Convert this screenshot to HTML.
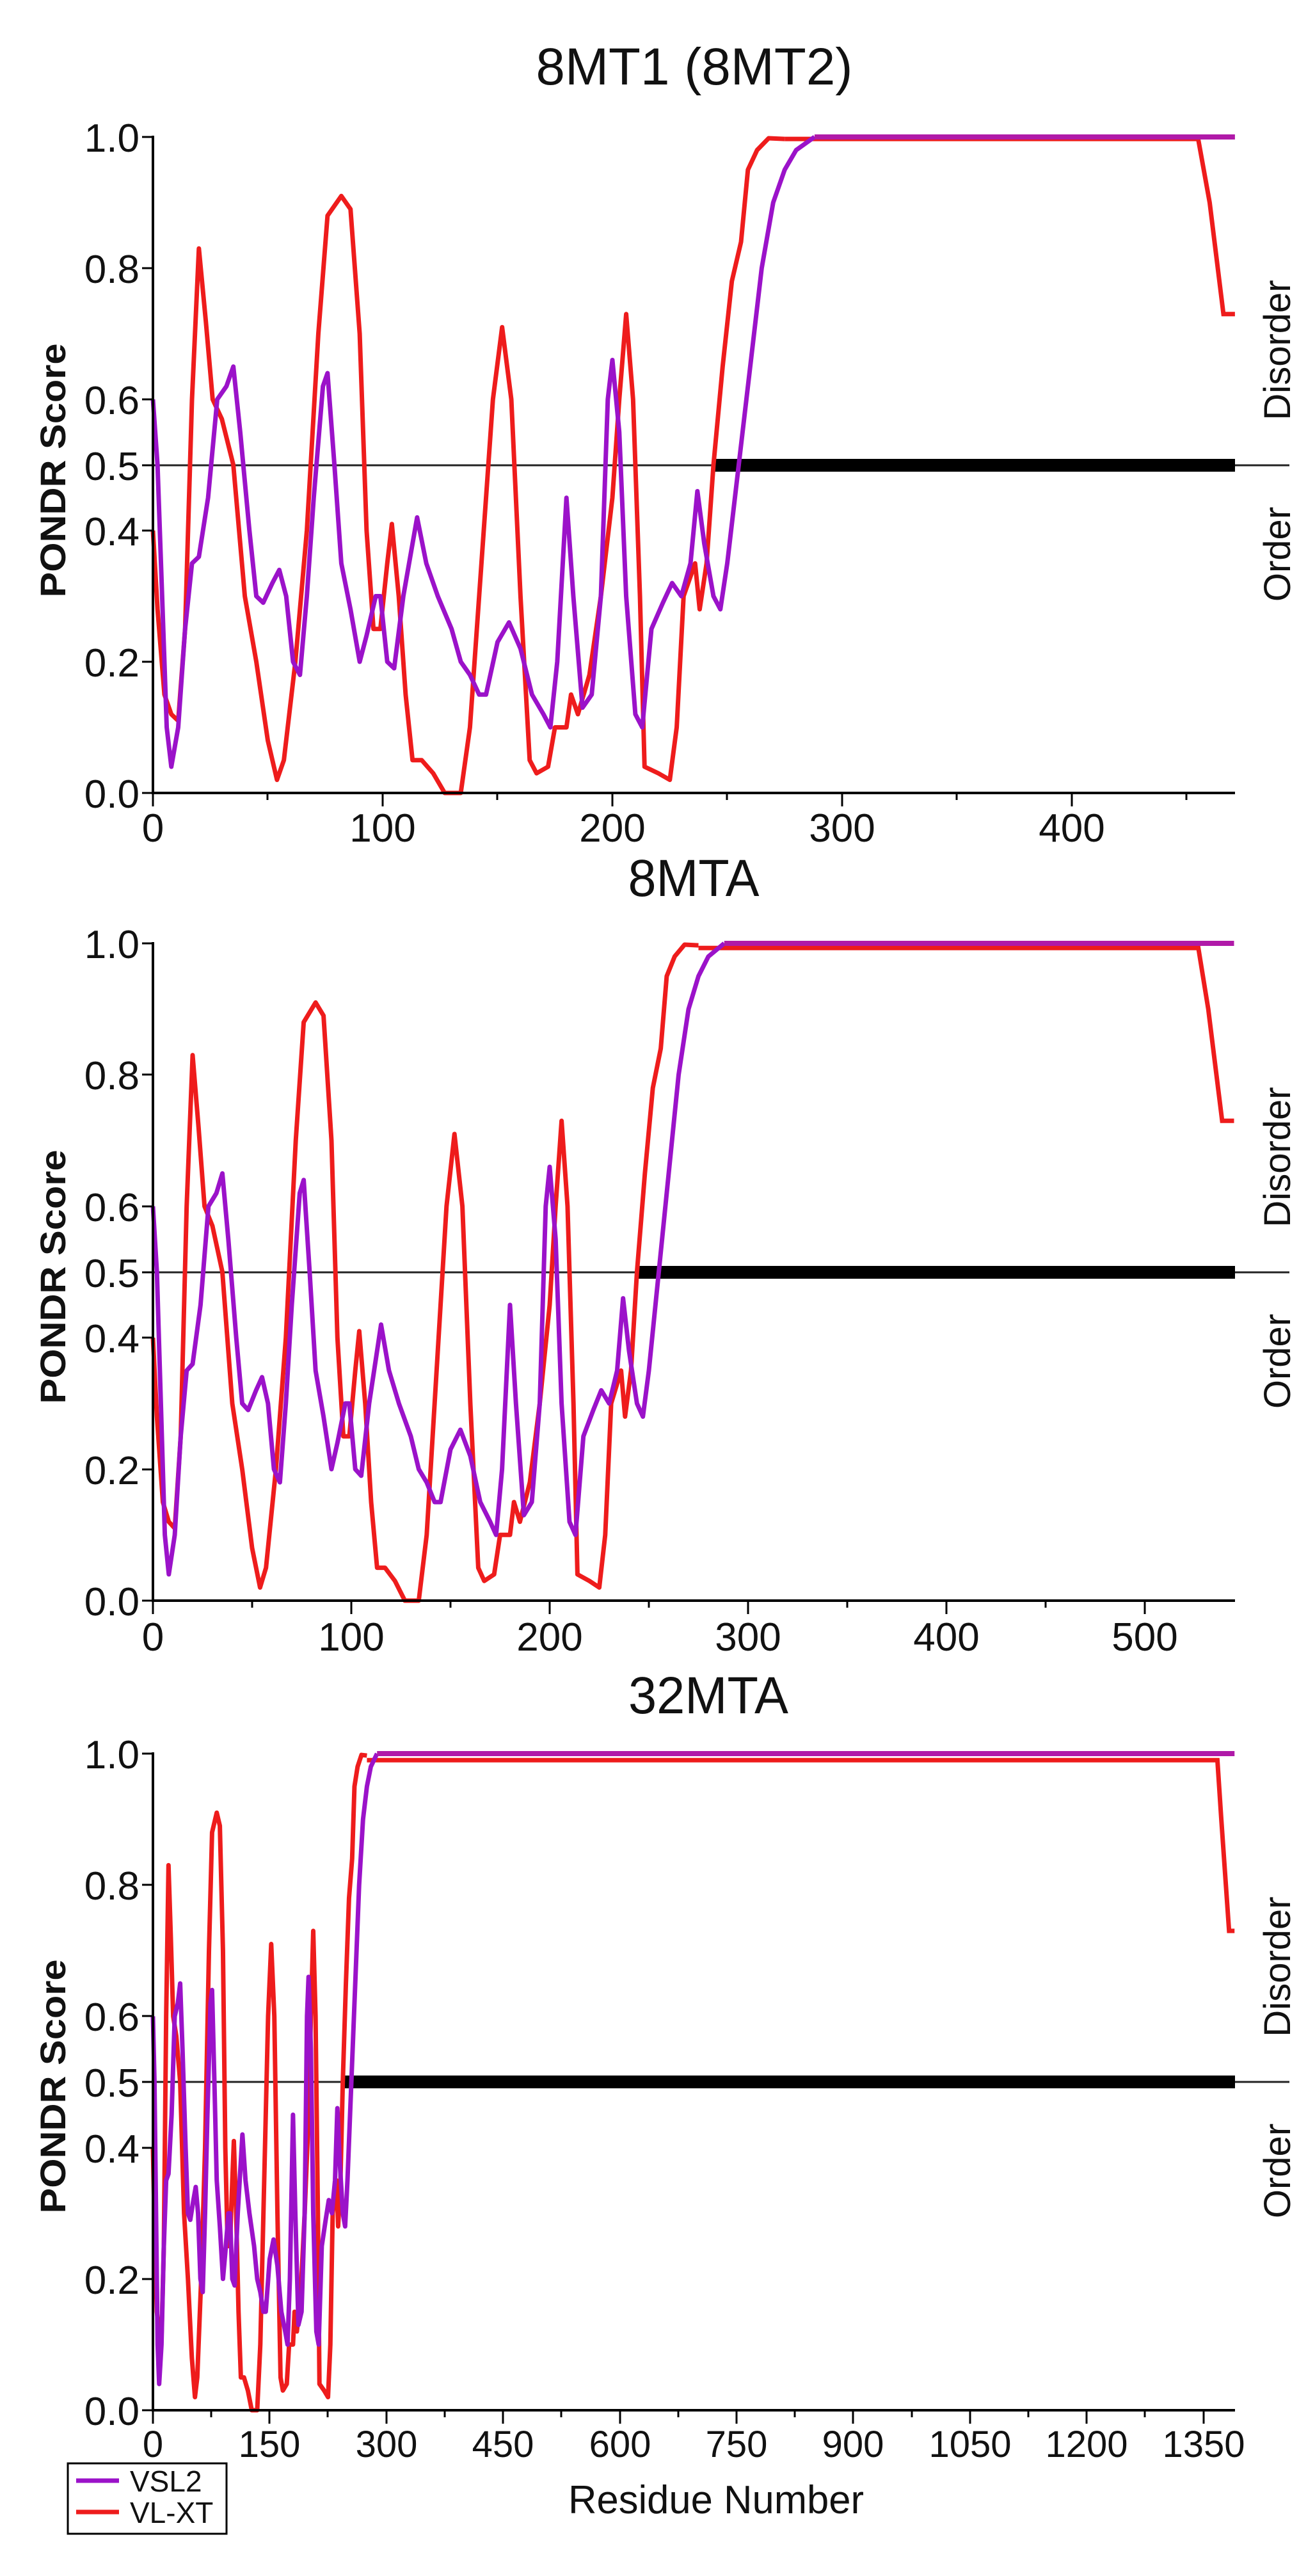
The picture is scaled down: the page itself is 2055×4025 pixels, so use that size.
<!DOCTYPE html>
<html><head><meta charset="utf-8"><style>
html,body{margin:0;padding:0;background:#fff}
svg{display:block}
text{font-family:"Liberation Sans",Arial,sans-serif;fill:#111}
</style></head><body>
<svg width="2055" height="4025" viewBox="0 0 2055 4025" xmlns="http://www.w3.org/2000/svg">
<defs>
<polyline id="redHead" fill="none" stroke="#ee1c1c" stroke-width="7" vector-effect="non-scaling-stroke" stroke-linejoin="round" points="0,0.40 2,0.28 5,0.15 8,0.12 11,0.11 14,0.25 17,0.6 20,0.83 23,0.72 26,0.6 30,0.57 35,0.5 40,0.3 45,0.2 50,0.08 54,0.02 57,0.05 62,0.2 67,0.4 72,0.7 76,0.88 82,0.91 86,0.89 90,0.7 93,0.4 96,0.25 99,0.25 102,0.35 104,0.41 107,0.3 110,0.15 113,0.05 117,0.05 122,0.03 127,0.0 134,0.0 138,0.1 143,0.35 148,0.6 152,0.71 156,0.6 160,0.3 164,0.05 167,0.03 172,0.04 175,0.1 180,0.1 182,0.15 185,0.12 190,0.18 195,0.3 200,0.45 203,0.6 206,0.73 209,0.6 212,0.3 214,0.04 220,0.03 225,0.02 228,0.1 231,0.3 236,0.35 238,0.28 241,0.35 244,0.5 248,0.65 252,0.78 256,0.84 259,0.95 263,0.98 268,0.998 275,0.997"/>
<polyline id="purHead" fill="none" stroke="#9b12c9" stroke-width="7" vector-effect="non-scaling-stroke" stroke-linejoin="round" points="0,0.60 2,0.5 4,0.3 6,0.1 8,0.04 11,0.1 14,0.25 17,0.35 20,0.36 24,0.45 28,0.6 32,0.62 35,0.65 38,0.55 42,0.4 45,0.3 48,0.29 52,0.32 55,0.34 58,0.3 61,0.2 64,0.18 67,0.3 70,0.45 74,0.62 76,0.64 79,0.5 82,0.35 86,0.28 90,0.2 93,0.24 97,0.3 99,0.3 102,0.2 105,0.19 109,0.3 115,0.42 119,0.35 124,0.3 130,0.25 134,0.2 138,0.18 142,0.15 145,0.15 150,0.23 155,0.26 160,0.22 165,0.15 170,0.12 173,0.1 176,0.2 180,0.45 183,0.3 187,0.13 191,0.15 195,0.3 198,0.6 200,0.66 203,0.55 206,0.3 210,0.12 213,0.1 217,0.25 222,0.29 226,0.32 230,0.3 234,0.35 237,0.46 240,0.38 244,0.3 247,0.28 250,0.35 255,0.5 260,0.65 265,0.8 270,0.9 275,0.95 280,0.98 288,1.0"/>
</defs>

<!-- ===== Panel 1 ===== -->
<text x="1085" y="132" font-size="82" text-anchor="middle" textLength="495" lengthAdjust="spacingAndGlyphs">8MT1 (8MT2)</text>
<g>
<line x1="239" y1="727" x2="2015" y2="727" stroke="#222" stroke-width="3"/>
<rect x="1115" y="717" width="815" height="20" fill="#000"/>
<g transform="translate(239,1239) scale(3.59,-1025)">
<use href="#redHead"/>
<polyline fill="none" stroke="#ee1c1c" stroke-width="7" vector-effect="non-scaling-stroke" points="275,0.997 455,0.997 460,0.9 466,0.73 471,0.73"/>
<use href="#purHead"/>
<polyline fill="none" stroke="#b01aa8" stroke-width="8" vector-effect="non-scaling-stroke" points="288,1.0 471,1.0"/>
</g>
<line x1="239" y1="212" x2="239" y2="1241" stroke="#000" stroke-width="4"/>
<line x1="237" y1="1239" x2="1930" y2="1239" stroke="#000" stroke-width="4"/>
<g stroke="#000" stroke-width="3">
<line x1="222" y1="214" x2="239" y2="214"/><line x1="222" y1="419" x2="239" y2="419"/><line x1="222" y1="624" x2="239" y2="624"/><line x1="222" y1="727" x2="239" y2="727"/><line x1="222" y1="829" x2="239" y2="829"/><line x1="222" y1="1034" x2="239" y2="1034"/><line x1="222" y1="1239" x2="239" y2="1239"/>
<line x1="239" y1="1239" x2="239" y2="1260"/><line x1="598" y1="1239" x2="598" y2="1260"/><line x1="957" y1="1239" x2="957" y2="1260"/><line x1="1316" y1="1239" x2="1316" y2="1260"/><line x1="1675" y1="1239" x2="1675" y2="1260"/>
<line x1="418" y1="1239" x2="418" y2="1250"/><line x1="777" y1="1239" x2="777" y2="1250"/><line x1="1136" y1="1239" x2="1136" y2="1250"/><line x1="1495" y1="1239" x2="1495" y2="1250"/><line x1="1854" y1="1239" x2="1854" y2="1250"/>
</g>
<g font-size="62" text-anchor="end">
<text x="218" y="237">1.0</text><text x="218" y="442">0.8</text><text x="218" y="647">0.6</text><text x="218" y="750">0.5</text><text x="218" y="852">0.4</text><text x="218" y="1057">0.2</text><text x="218" y="1262">0.0</text>
</g>
<g font-size="62" text-anchor="middle">
<text x="239" y="1315">0</text><text x="598" y="1315">100</text><text x="957" y="1315">200</text><text x="1316" y="1315">300</text><text x="1675" y="1315">400</text>
</g>
<text transform="translate(102,735) rotate(-90)" font-size="56" font-weight="bold" text-anchor="middle" textLength="397" lengthAdjust="spacingAndGlyphs">PONDR Score</text>
<text transform="translate(2016,547) rotate(-90)" font-size="58" text-anchor="middle">Disorder</text>
<text transform="translate(2016,866) rotate(-90)" font-size="58" text-anchor="middle">Order</text>
</g>

<!-- ===== Panel 2 ===== -->
<text x="1084" y="1400" font-size="82" text-anchor="middle" textLength="205" lengthAdjust="spacingAndGlyphs">8MTA</text>
<g>
<line x1="239" y1="1988" x2="2015" y2="1988" stroke="#222" stroke-width="3"/>
<rect x="995" y="1978" width="935" height="20" fill="#000"/>
<g transform="translate(239,2501) scale(3.10,-1027)">
<use href="#redHead"/>
<polyline fill="none" stroke="#ee1c1c" stroke-width="7" vector-effect="non-scaling-stroke" points="275,0.993 527,0.993 532,0.9 539,0.73 545,0.73"/>
<use href="#purHead"/>
<polyline fill="none" stroke="#b01aa8" stroke-width="8" vector-effect="non-scaling-stroke" points="288,1.0 545,1.0"/>
</g>
<line x1="239" y1="1472" x2="239" y2="2503" stroke="#000" stroke-width="4"/>
<line x1="237" y1="2501" x2="1930" y2="2501" stroke="#000" stroke-width="4"/>
<g stroke="#000" stroke-width="3">
<line x1="222" y1="1474" x2="239" y2="1474"/><line x1="222" y1="1679" x2="239" y2="1679"/><line x1="222" y1="1885" x2="239" y2="1885"/><line x1="222" y1="1988" x2="239" y2="1988"/><line x1="222" y1="2090" x2="239" y2="2090"/><line x1="222" y1="2296" x2="239" y2="2296"/><line x1="222" y1="2501" x2="239" y2="2501"/>
<line x1="239" y1="2501" x2="239" y2="2522"/><line x1="549" y1="2501" x2="549" y2="2522"/><line x1="859" y1="2501" x2="859" y2="2522"/><line x1="1169" y1="2501" x2="1169" y2="2522"/><line x1="1479" y1="2501" x2="1479" y2="2522"/><line x1="1789" y1="2501" x2="1789" y2="2522"/>
<line x1="394" y1="2501" x2="394" y2="2512"/><line x1="704" y1="2501" x2="704" y2="2512"/><line x1="1014" y1="2501" x2="1014" y2="2512"/><line x1="1324" y1="2501" x2="1324" y2="2512"/><line x1="1634" y1="2501" x2="1634" y2="2512"/>
</g>
<g font-size="62" text-anchor="end">
<text x="218" y="1497">1.0</text><text x="218" y="1702">0.8</text><text x="218" y="1908">0.6</text><text x="218" y="2011">0.5</text><text x="218" y="2113">0.4</text><text x="218" y="2319">0.2</text><text x="218" y="2524">0.0</text>
</g>
<g font-size="62" text-anchor="middle">
<text x="239" y="2579">0</text><text x="549" y="2579">100</text><text x="859" y="2579">200</text><text x="1169" y="2579">300</text><text x="1479" y="2579">400</text><text x="1789" y="2579">500</text>
</g>
<text transform="translate(102,1995) rotate(-90)" font-size="56" font-weight="bold" text-anchor="middle" textLength="397" lengthAdjust="spacingAndGlyphs">PONDR Score</text>
<text transform="translate(2016,1808) rotate(-90)" font-size="58" text-anchor="middle">Disorder</text>
<text transform="translate(2016,2127) rotate(-90)" font-size="58" text-anchor="middle">Order</text>
</g>

<!-- ===== Panel 3 ===== -->
<text x="1107" y="2677" font-size="82" text-anchor="middle" textLength="250" lengthAdjust="spacingAndGlyphs">32MTA</text>
<g>
<line x1="239" y1="3253" x2="2015" y2="3253" stroke="#222" stroke-width="3"/>
<rect x="537" y="3243" width="1393" height="20" fill="#000"/>
<g transform="translate(239,3766) scale(1.216,-1026)">
<use href="#redHead"/>
<polyline fill="none" stroke="#ee1c1c" stroke-width="7" vector-effect="non-scaling-stroke" points="275,0.99 1368,0.99 1373,0.9 1383,0.73 1390,0.73"/>
<use href="#purHead"/>
<polyline fill="none" stroke="#b01aa8" stroke-width="8" vector-effect="non-scaling-stroke" points="288,1.0 1390,1.0"/>
</g>
<line x1="239" y1="2738" x2="239" y2="3768" stroke="#000" stroke-width="4"/>
<line x1="237" y1="3766" x2="1930" y2="3766" stroke="#000" stroke-width="4"/>
<g stroke="#000" stroke-width="3">
<line x1="222" y1="2740" x2="239" y2="2740"/><line x1="222" y1="2945" x2="239" y2="2945"/><line x1="222" y1="3150" x2="239" y2="3150"/><line x1="222" y1="3253" x2="239" y2="3253"/><line x1="222" y1="3356" x2="239" y2="3356"/><line x1="222" y1="3561" x2="239" y2="3561"/><line x1="222" y1="3766" x2="239" y2="3766"/>
<line x1="239" y1="3766" x2="239" y2="3787"/><line x1="421" y1="3766" x2="421" y2="3787"/><line x1="604" y1="3766" x2="604" y2="3787"/><line x1="786" y1="3766" x2="786" y2="3787"/><line x1="969" y1="3766" x2="969" y2="3787"/><line x1="1151" y1="3766" x2="1151" y2="3787"/><line x1="1333" y1="3766" x2="1333" y2="3787"/><line x1="1516" y1="3766" x2="1516" y2="3787"/><line x1="1698" y1="3766" x2="1698" y2="3787"/><line x1="1881" y1="3766" x2="1881" y2="3787"/>
<line x1="330" y1="3766" x2="330" y2="3777"/><line x1="512" y1="3766" x2="512" y2="3777"/><line x1="695" y1="3766" x2="695" y2="3777"/><line x1="877" y1="3766" x2="877" y2="3777"/><line x1="1060" y1="3766" x2="1060" y2="3777"/><line x1="1242" y1="3766" x2="1242" y2="3777"/><line x1="1425" y1="3766" x2="1425" y2="3777"/><line x1="1607" y1="3766" x2="1607" y2="3777"/><line x1="1789" y1="3766" x2="1789" y2="3777"/>
</g>
<g font-size="62" text-anchor="end">
<text x="218" y="2763">1.0</text><text x="218" y="2968">0.8</text><text x="218" y="3173">0.6</text><text x="218" y="3276">0.5</text><text x="218" y="3379">0.4</text><text x="218" y="3584">0.2</text><text x="218" y="3789">0.0</text>
</g>
<g font-size="58" text-anchor="middle">
<text x="239" y="3839">0</text><text x="421" y="3839">150</text><text x="604" y="3839">300</text><text x="786" y="3839">450</text><text x="969" y="3839">600</text><text x="1151" y="3839">750</text><text x="1333" y="3839">900</text><text x="1516" y="3839">1050</text><text x="1698" y="3839">1200</text><text x="1881" y="3839">1350</text>
</g>
<text transform="translate(102,3260) rotate(-90)" font-size="56" font-weight="bold" text-anchor="middle" textLength="397" lengthAdjust="spacingAndGlyphs">PONDR Score</text>
<text transform="translate(2016,3073) rotate(-90)" font-size="58" text-anchor="middle">Disorder</text>
<text transform="translate(2016,3392) rotate(-90)" font-size="58" text-anchor="middle">Order</text>
<text x="1119" y="3927" font-size="62" text-anchor="middle" textLength="462" lengthAdjust="spacingAndGlyphs">Residue Number</text>
<rect x="106" y="3849" width="248" height="110" fill="#fff" stroke="#000" stroke-width="3"/>
<line x1="119" y1="3876" x2="186" y2="3876" stroke="#9b12c9" stroke-width="7"/>
<line x1="119" y1="3925" x2="186" y2="3925" stroke="#ee1c1c" stroke-width="7"/>
<text x="203" y="3893" font-size="46">VSL2</text>
<text x="203" y="3942" font-size="46">VL-XT</text>
</g>
</svg>
</body></html>
